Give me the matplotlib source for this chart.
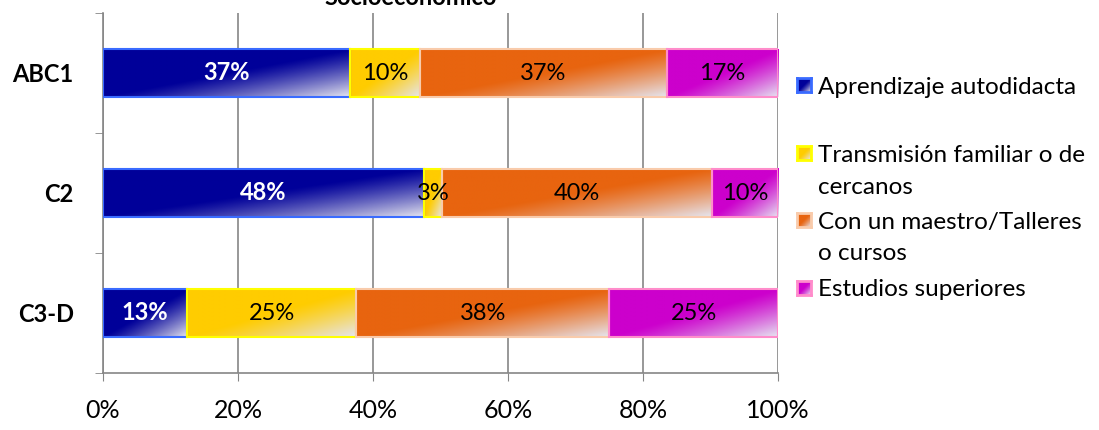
import numpy as np
import matplotlib
matplotlib.use("Agg")
import matplotlib.pyplot as plt

plt.rcParams['font.family'] = ['Lato', 'DejaVu Sans']

# data
groups = ['ABC1', 'C2', 'C3-D']
series = ['Aprendizaje autodidacta',
          'Transmisión familiar o de\ncercanos',
          'Con un maestro/Talleres\no cursos',
          'Estudios superiores']
autodidacta = [36.6, 47.6, 12.5]
familiar = [10.3, 2.6, 25.0]
maestro = [36.6, 40.0, 37.5]
superiores = [16.5, 9.8, 25.0]
values = [autodidacta, familiar, maestro, superiores]
xticks = [0, 20, 40, 60, 80, 100]
title = 'Socioeconómico'

colors = ['#000099', '#FFCC00', '#E8640F', '#CC00CC']
edges = ['#3A6BFF', '#FFFF00', '#F9CBAB', '#FF8CCB']
light = np.array([0.90, 0.90, 0.94])

W, H = 1099, 430
fig = plt.figure(figsize=(W / 100, H / 100), dpi=100)
ax = fig.add_axes([103 / W, 1 - 373 / H, 675 / W, 360 / H])


def gradient(color, nx=200, ny=60):
    base = np.array(matplotlib.colors.to_rgb(color))
    u = np.linspace(0, 1, nx)[None, :]
    v = np.linspace(0, 1, ny)[:, None]
    t = (u + v) / 2
    s = np.clip((t - 0.5) / 0.5, 0, 1) ** 1.2
    return base * (1 - s[..., None]) + light * s[..., None]


ypos = np.arange(len(groups))
left = np.zeros(len(groups))
for i, vals in enumerate(values):
    bars = ax.barh(ypos, vals, left=left, height=0.4, facecolor='none',
                   edgecolor=edges[i], linewidth=1.5, zorder=4)
    for b, v in zip(bars, vals):
        x0, y0, w, h = b.get_x(), b.get_y(), b.get_width(), b.get_height()
        ax.imshow(gradient(colors[i]), extent=(x0, x0 + w, y0 + h, y0),
                  aspect='auto', zorder=3, interpolation='bilinear')
        lab = '%d%%' % int(v + 0.5)
        if i == 0:
            ax.text(x0 + w / 2, y0 + h / 2, lab, ha='center', va='center',
                    color='white', fontsize=17, fontweight='bold', zorder=5)
        else:
            ax.text(x0 + w / 2, y0 + h / 2, lab, ha='center', va='center',
                    color='black', fontsize=17, zorder=5)
    left += np.array(vals)

ax.set_xlim(0, 100)
ax.set_ylim(len(groups) - 0.5, -0.5)
ax.set_xticks(xticks)
ax.set_xticklabels(['%d%%' % x for x in xticks], fontsize=18)
ax.set_yticks(ypos)
ax.set_yticklabels(groups, fontsize=17, fontweight='bold')
ax.set_yticks(np.arange(len(groups) + 1) - 0.5, minor=True)
ax.tick_params(axis='y', which='major', length=0, pad=21)
ax.tick_params(axis='y', which='minor', length=6, color='#868686')
ax.tick_params(axis='x', length=6, color='#868686', pad=13)
ax.grid(axis='x', color='#868686', linewidth=1.2, zorder=1)
ax.set_axisbelow(True)
for s in ['top', 'right']:
    ax.spines[s].set_visible(False)
for s in ['left', 'bottom']:
    ax.spines[s].set_color('#868686')
    ax.spines[s].set_linewidth(1.2)

fig.text(411 / W, 1 - 5 / H, title, ha='center', va='baseline',
         fontsize=17, fontweight='bold')

# legend
leg_y = [85, 153, 220, 288]
for i, name in enumerate(series):
    yc = leg_y[i]
    lax = fig.add_axes([797 / W, 1 - (yc + 7) / H, 14 / W, 14 / H])
    lax.imshow(gradient(colors[i], 30, 30), aspect='auto', extent=(0, 1, 1, 0))
    lax.set_xlim(0, 1)
    lax.set_ylim(1, 0)
    lax.set_xticks([])
    lax.set_yticks([])
    for sp in lax.spines.values():
        sp.set_color(edges[i])
        sp.set_linewidth(2)
    for j, line in enumerate(name.split('\n')):
        fig.text(818 / W, 1 - (yc + 32 * j) / H, line, ha='left',
                 va='center_baseline', fontsize=17.5)

fig.savefig('out.png', dpi=100)
